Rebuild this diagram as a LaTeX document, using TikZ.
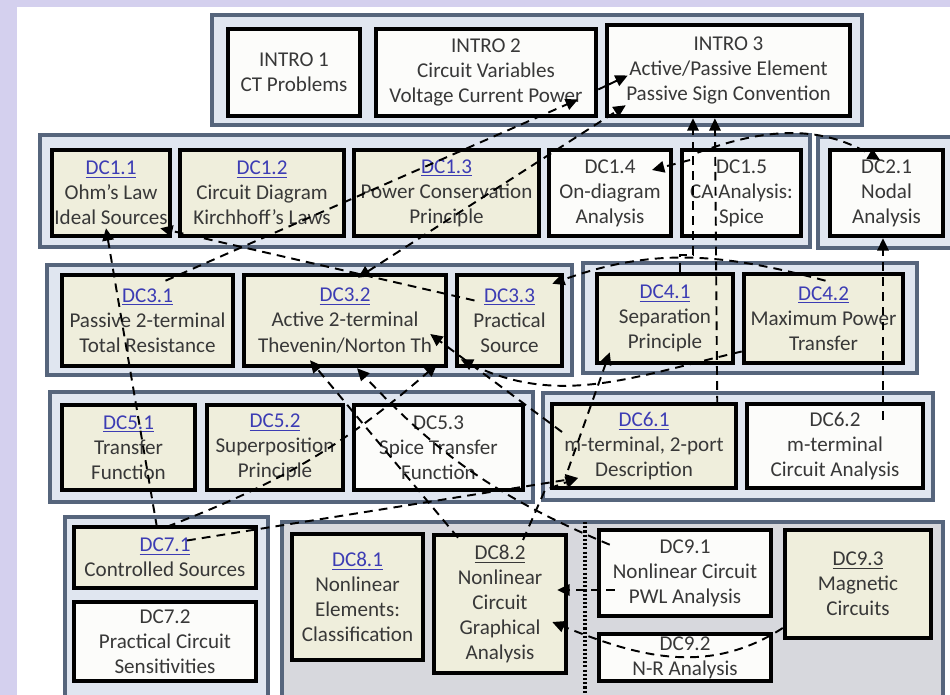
\documentclass[tikz,border=0pt]{standalone}
\usepackage{fontspec}
\setmainfont{Carlito}
\usetikzlibrary{arrows.meta}
\definecolor{lavender}{HTML}{D4D0EE}
\definecolor{framecol}{HTML}{56657C}
\definecolor{framefill}{HTML}{E0E6F0}
\definecolor{grayfill}{HTML}{D7D8DD}
\definecolor{beige}{HTML}{EFEEDC}
\definecolor{paper}{HTML}{FCFCFA}
\definecolor{textgray}{HTML}{383838}
\definecolor{linkblue}{HTML}{3C3CB4}
\newcommand{\lnk}[1]{\textcolor{linkblue}{\underline{#1}}}

\begin{document}
\begin{tikzpicture}
[
x = 0.02cm, y = -0.02cm,
frame/.style = {draw=framecol, line width=2.8pt, fill=framefill},
box/.style = {draw, line width=2.6pt, align=center, inner sep=0pt, text=textgray,
  font=\fontsize{12}{14.3}\selectfont},
sz/.style 2 args = {minimum width=#1*0.2mm, minimum height=#2*0.2mm},
dep/.style = {line width=1.1pt, dash pattern=on 5pt off 3.5pt},
arr/.style = {-{Triangle[length=7pt,width=6.5pt]}},
arrs/.style = {{Triangle[length=7pt,width=6.5pt]}-{Triangle[length=7pt,width=6.5pt]}}
]
\useasboundingbox (0,0) rectangle (950,695);
\clip (0,0) rectangle (950,695);
\fill[lavender] (0,0) rectangle (950,695);
\fill[white] (17,7) rectangle (950,695);

\draw[frame] (212,15) rectangle (862,125);
\draw[frame] (40,135) rectangle (810,247);
\draw[frame] (818,137) rectangle (960,248);
\draw[frame] (47,265) rectangle (572,375);
\draw[frame] (583,263) rectangle (917,373);
\draw[frame] (50,392) rectangle (533,502);
\draw[frame] (543,393) rectangle (933,500);
\draw[frame] (65,517) rectangle (268,710);
\draw[frame, fill=grayfill] (282,522) rectangle (943,710);
\draw[line width=2pt, dash pattern=on 1.2pt off 1.2pt] (585,522) -- (585,700);

\node[box, fill=paper, sz={132}{87}] (i1) at (294,72.5) {INTRO 1\\CT Problems};
\node[box, fill=paper, sz={220}{87}] (i2) at (486,72.5) {INTRO 2\\Circuit Variables\\Voltage Current Power};
\node[box, fill=paper, sz={243}{91}] (i3) at (728.5,70.5) {INTRO 3\\Active/Passive Element\\Passive Sign Convention};

\node[box, fill=beige, sz={118}{86}] (dc11) at (111,193) {\lnk{DC1.1}\\Ohm's Law\\Ideal Sources};
\node[box, fill=beige, sz={164}{86}] (dc12) at (262,193) {\lnk{DC1.2}\\Circuit Diagram\\Kirchhoff's Laws};
\node[box, fill=beige, sz={185}{86}] (dc13) at (446.5,193) {\lnk{DC1.3}\\Power Conservation\\Principle};
\node[box, fill=paper, sz={122}{86}] (dc14) at (610,193) {DC1.4\\On-diagram\\Analysis};
\node[box, fill=paper, sz={119}{86}] (dc15) at (741.5,193) {DC1.5\\CA Analysis:\\Spice};
\node[box, fill=paper, sz={113}{86}] (dc21) at (886.5,193) {DC2.1\\Nodal\\Analysis};

\node[box, fill=beige, sz={171}{91}] (dc31) at (147.5,320.5) {\lnk{DC3.1}\\Passive 2-terminal\\Total Resistance};
\node[box, fill=beige, sz={202}{91}] (dc32) at (345,320.5) {\lnk{DC3.2}\\Active 2-terminal\\Thevenin/Norton Th};
\node[box, fill=beige, sz={105}{91}] (dc33) at (509.5,320.5) {\lnk{DC3.3}\\Practical\\Source};
\node[box, fill=beige, sz={136}{89}] (dc41) at (665,318.5) {\lnk{DC4.1}\\Separation\\Principle};
\node[box, fill=beige, sz={159}{89}] (dc42) at (823.5,318.5) {\lnk{DC4.2}\\Maximum Power\\Transfer};

\node[box, fill=beige, sz={133}{85}] (dc51) at (128.5,447.5) {\lnk{DC5.1}\\Transfer\\Function};
\node[box, fill=beige, sz={136}{85}] (dc52) at (275,447.5) {\lnk{DC5.2}\\Superposition\\Principle};
\node[box, fill=paper, sz={169}{85}] (dc53) at (438.5,447.5) {DC5.3\\Spice Transfer\\Function};
\node[box, fill=beige, sz={184}{84}] (dc61) at (644,446) {\lnk{DC6.1}\\m-terminal, 2-port\\Description};
\node[box, fill=paper, sz={176}{84}] (dc62) at (835,446) {DC6.2\\m-terminal\\Circuit Analysis};

\node[box, fill=beige, sz={182}{61}] (dc71) at (165,557.5) {\lnk{DC7.1}\\Controlled Sources};
\node[box, fill=paper, sz={182}{79}] (dc72) at (165,641.5) {DC7.2\\Practical Circuit\\Sensitivities};
\node[box, fill=beige, sz={131}{126}] (dc81) at (357.5,597) {\lnk{DC8.1}\\Nonlinear\\Elements:\\Classification};
\node[box, fill=beige, sz={132}{138}] (dc82) at (500,604) {\underline{DC8.2}\\Nonlinear\\Circuit\\Graphical\\Analysis};
\node[box, fill=paper, sz={172}{86}] (dc91) at (685,573) {DC9.1\\Nonlinear Circuit\\PWL Analysis};
\node[box, fill=paper, sz={172}{47}] (dc92) at (685,657.5) {DC9.2\\N-R Analysis};
\node[box, fill=beige, sz={146}{108}] (dc93) at (858,584) {\underline{DC9.3}\\Magnetic\\Circuits};

\draw[line width=1.1pt, arr] ([shift={(0,17)}]i2.east) -- ([shift={(23,5)}]i3.west);
\draw[dep, arr] ([shift={(18,8)}]dc31.north) -- ([shift={(92,27)}]i2.center);
\draw[dep, arrs] ([shift={(13,5)}]dc32.north) -- ([shift={(21,-13)}]i3.south west);
\draw[dep, arr] ([shift={(-35,-20)}]dc33.center) -- ([shift={(-12,-10)}]dc11.south east);
\draw[dep, arr] ([shift={(2,9)}]dc42.north) to[out=165,in=20] ([shift={(-12,11)}]dc33.north east);
\draw[dep, arr] ([shift={(-21,3)}]dc61.north east) -- ([shift={(-13.6,0)}]i3.south);
\draw[dep, arr] ([shift={(15,0)}]dc41.north) -- ++(0,-17) -- ++(13,0) -- ([shift={(-35.5,0)}]i3.south);
\draw[dep, arr] ([shift={(-51.5,-33)}]dc15.center) -- ([shift={(42,-23)}]dc14.center);
\draw[dep, arr] ([shift={(-44,5)}]dc15.north) to[out=20,in=150] ([shift={(-6.5,-33)}]dc21.center);
\draw[dep, arr] ([shift={(48,-26)}]dc62.center) -- ([shift={(-3.5,0)}]dc21.south);
\draw[dep, arr] ([shift={(-8,3)}]dc71.north) -- ([shift={(-5,-10)}]dc11.south);
\draw[dep, arr] ([shift={(2,2)}]dc71.north) to[bend right=10] ([shift={(92,-4)}]dc32.south);
\draw[dep, arr] ([shift={(-42,5)}]dc82.north) -- ([shift={(-35,-8)}]dc32.south);
\draw[dep, arr] ([shift={(13,17)}]dc91.north west) to[bend left=12] ([shift={(12,0)}]dc32.south);
\draw[dep, arr] ([shift={(23,-64)}]dc82.center) -- ++(22,-50) -- ([shift={(-66,32)}]dc61.center);
\draw[dep, arr] ([shift={(22,-17)}]dc71.center) -- ([shift={(-66,32)}]dc61.center);
\draw[dep, arr] ([shift={(0,33)}]dc42.west) to[out=193,in=-26] ([shift={(6,-9)}]dc33.south west);
\draw[dep, arr] ([shift={(-76,24)}]dc61.center) -- ([shift={(15,-13)}]dc41.south west);
\draw[dep, arr] ([shift={(18,17)}]dc91.west) -- ([shift={(-11,-14)}]dc82.east);
\draw[dep, arr] ([shift={(0,44)}]dc93.west) to[out=213,in=-22] ([shift={(-16,18)}]dc82.east);
\draw[dep, arr] ([shift={(-82,-14)}]dc61.center) -- ([shift={(-18,13.5)}]dc32.east);
\end{tikzpicture}
\end{document}
